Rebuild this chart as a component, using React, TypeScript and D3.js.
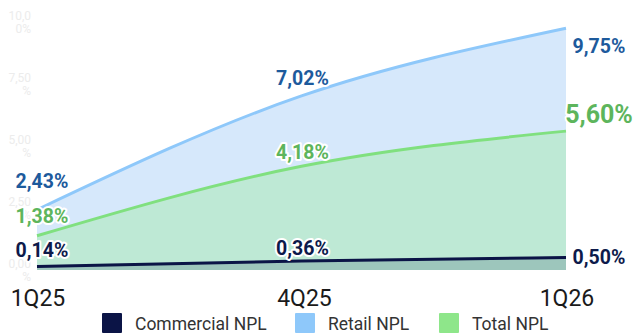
import React, { useEffect } from "react";
import * as d3 from "d3";

const categories = ["1Q25", "4Q25", "1Q26"];
const commercial = [0.14, 0.36, 0.5];
const retail = [2.43, 7.02, 9.75];
const total = [1.38, 4.18, 5.6];
const yTicks = [0, 2.5, 5, 7.5, 10];
const yTickLabels = [["0,00", "%"], ["2,50", "%"], ["5,00", "%"], ["7,50", "%"], ["10,0", "0%"]];
const legendNames = ["Commercial NPL", "Retail NPL", "Total NPL"];

const W = 643, H = 333;
const fmt = (v: number) => v.toFixed(2).replace(".", ",") + "%";

export default function App() {
  useEffect(() => { document.body.style.margin = "0"; }, []);
  const x = d3.scalePoint<string>().domain(categories).range([37, 566]);
  const y = d3.scaleLinear().domain([0, 10]).range([270, 22]);
  const curve = d3.curveMonotoneX;
  const pts = (arr: number[]) => arr.map((v, i) => [x(categories[i])!, y(v)] as [number, number]);
  const area = d3.area<[number, number]>().x(d => d[0]).y0(y(0)).y1(d => d[1]).curve(curve);
  const line = d3.line<[number, number]>().x(d => d[0]).y(d => d[1]).curve(curve);

  const series = [
    { data: retail, fill: "#d6e8fb", stroke: "#8ec8fa", text: "#1d5a9c" },
    { data: total, fill: "#bee9d5", stroke: "#80e07f", text: "#5db55c" },
    { data: commercial, fill: "#9dc6bc", stroke: "#0b1446", text: "#0d1a4b" },
  ];
  // label offsets (dy from point, px) and x shift per category
  const labelDy = [
    [-22, -11, 25],
    [-13, -7, -8],
    [-10, -6, 6],
  ];
  const labelDx = [5, 1, 33];
  const labelSize = [[19.5, 19.5, 19.5], [19.5, 19.5, 25], [19.5, 19.5, 19.5]];
  const legendColors = ["#0b1446", "#8ec8fa", "#8ee68a"];
  const legendX = [102, 295, 439];

  return (
    <svg width={W} height={H} style={{ position: "absolute", left: 0, top: 0, fontFamily: "Roboto, sans-serif" }}>
      {yTicks.map((t, i) => (
        <text key={i} x={31} y={y(t) - 2} textAnchor="end" fontSize={12} fill="#ececec">
          <tspan x={31}>{yTickLabels[i][0]}</tspan>
          <tspan x={31} dy={13}>{yTickLabels[i][1]}</tspan>
        </text>
      ))}
      {series.map((s, i) => (
        <path key={"a" + i} d={area(pts(s.data))!} fill={s.fill} />
      ))}
      {series.map((s, i) => (
        <path key={"l" + i} d={line(pts(s.data))!} fill="none" stroke={s.stroke} strokeWidth={3} />
      ))}
      {series.map((s, si) =>
        s.data.map((v, i) => (
          <text
            key={"t" + si + i}
            x={x(categories[i])! + labelDx[i]}
            y={y(v) + labelDy[si][i]}
            textAnchor="middle"
            fontSize={labelSize[si][i]}
            fontWeight="bold"
            fill={s.text}
            stroke="#fff"
            strokeWidth={4}
            strokeLinejoin="round"
            style={{ paintOrder: "stroke" }}
          >
            {fmt(v)}
          </text>
        ))
      )}
      {categories.map((c, i) => (
        <text key={c} x={x(c)! + (i === 0 ? 1 : i === 1 ? 3 : 1)} y={306} textAnchor="middle" fontSize={23} fill="#1a1a1a">
          {c}
        </text>
      ))}
      {legendNames.map((n, i) => (
        <g key={n}>
          <rect x={legendX[i]} y={313} width={20} height={20} rx={1} fill={legendColors[i]} />
          <text x={legendX[i] + 33} y={330} fontSize={17.5} fill="#333">{n}</text>
        </g>
      ))}
    </svg>
  );
}
